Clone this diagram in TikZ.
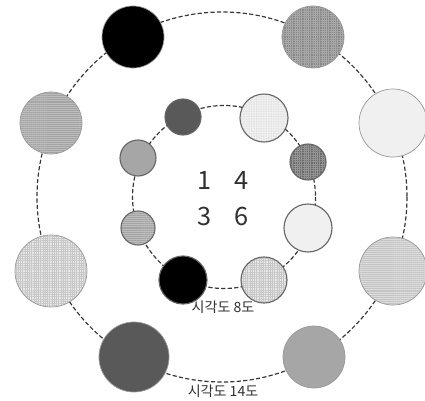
\documentclass[tikz,border=0pt]{standalone}
\usepackage{fontspec}
\setmainfont{Noto Sans CJK KR}
\usetikzlibrary{patterns.meta}

\definecolor{ringgray}{HTML}{383838}
\definecolor{diskdark}{HTML}{595959}
\definecolor{diskgray}{HTML}{A6A6A6}
\definecolor{diskpale}{HTML}{F0F0F0}
\definecolor{textgray}{HTML}{303030}

\tikzset{
  ring/.style={draw=ringgray, line width=0.85pt, dash pattern=on 3pt off 1.6pt},
  outerdisk/.style={circle, draw=black!40, line width=0.5pt, inner sep=0pt},
  innerdisk/.style={circle, draw=black!60, line width=0.8pt, inner sep=0pt},
  blackfill/.style={fill=black},
  darkfill/.style={fill=diskdark},
  grayfill/.style={fill=diskgray},
  palefill/.style={fill=diskpale},
  hlinemid/.style={preaction={fill=black!26}, pattern={Lines[angle=0, distance=1.4pt, line width=0.35pt]}, pattern color=black!36},
  hlinepale/.style={preaction={fill=black!14}, pattern={Lines[angle=0, distance=1.4pt, line width=0.35pt]}, pattern color=black!23},
  gridmid/.style={preaction={fill=black!47}, pattern={Hatch[angle=0, distance=1.6pt, line width=0.3pt]}, pattern color=black!34},
  griddark/.style={preaction={fill=black!58}, pattern={Hatch[angle=0, distance=1.6pt, line width=0.3pt]}, pattern color=black!42},
  gridpale/.style={preaction={fill=black!9}, pattern={Hatch[angle=0, distance=1.6pt, line width=0.3pt]}, pattern color=black!22},
  dotpale/.style={preaction={fill=black!6}, pattern={Dots[distance=1.2pt, radius=0.25pt]}, pattern color=black!20},
  digit/.style={font=\fontsize{18}{20}\selectfont, text=textgray, inner sep=1pt},
  caption/.style={font=\fontsize{10}{12}\selectfont, text=textgray, inner sep=1pt}
}

\begin{document}
\begin{tikzpicture}[x=0.025cm, y=-0.025cm]
  \useasboundingbox (0,0) rectangle (425,400);
  \coordinate (outerc) at (222,197);
  \coordinate (innerc) at (224,197);

  % dashed rings
  \draw[ring] (outerc) circle[radius=185];
  \draw[ring] (innerc) circle[radius=91.5];

  % outer ring disks
  \foreach \name/\x/\y/\r/\fillsty in {
    o1/133/37/31/blackfill,
    o2/313/37/31/gridmid,
    o3/51/123/31/hlinemid,
    o4/393/123/34/palefill,
    o5/51/271/36/gridpale,
    o6/393/271/34/hlinepale,
    o7/134/357/35/darkfill,
    o8/314/357/31/grayfill} {
    \node[outerdisk, \fillsty, minimum size=\r*0.05cm] (\name) at (\x,\y) {};
  }

  % inner ring disks
  \foreach \name/\x/\y/\r/\fillsty in {
    i1/183/117/18/darkfill,
    i2/264/118/24/dotpale,
    i3/138/158/18/grayfill,
    i4/308/162/18/griddark,
    i5/138/228/17/hlinemid,
    i6/308/228/24/palefill,
    i7/183/280/24/blackfill,
    i8/264/280/23/gridpale} {
    \node[innerdisk, \fillsty, minimum size=\r*0.05cm] (\name) at (\x,\y) {};
  }

  % numbers in the middle
  \foreach \name/\x/\y/\d in {n1/205/180/1, n4/242/180/4, n3/205/216/3, n6/242/216/6}
    \node[digit] (\name) at (\x,\y) {\d};

  \node[caption] (innerlabel) at (223,307) {시각도 8도};
  \node[caption] (outerlabel) at (223,391) {시각도 14도};
\end{tikzpicture}
\end{document}
